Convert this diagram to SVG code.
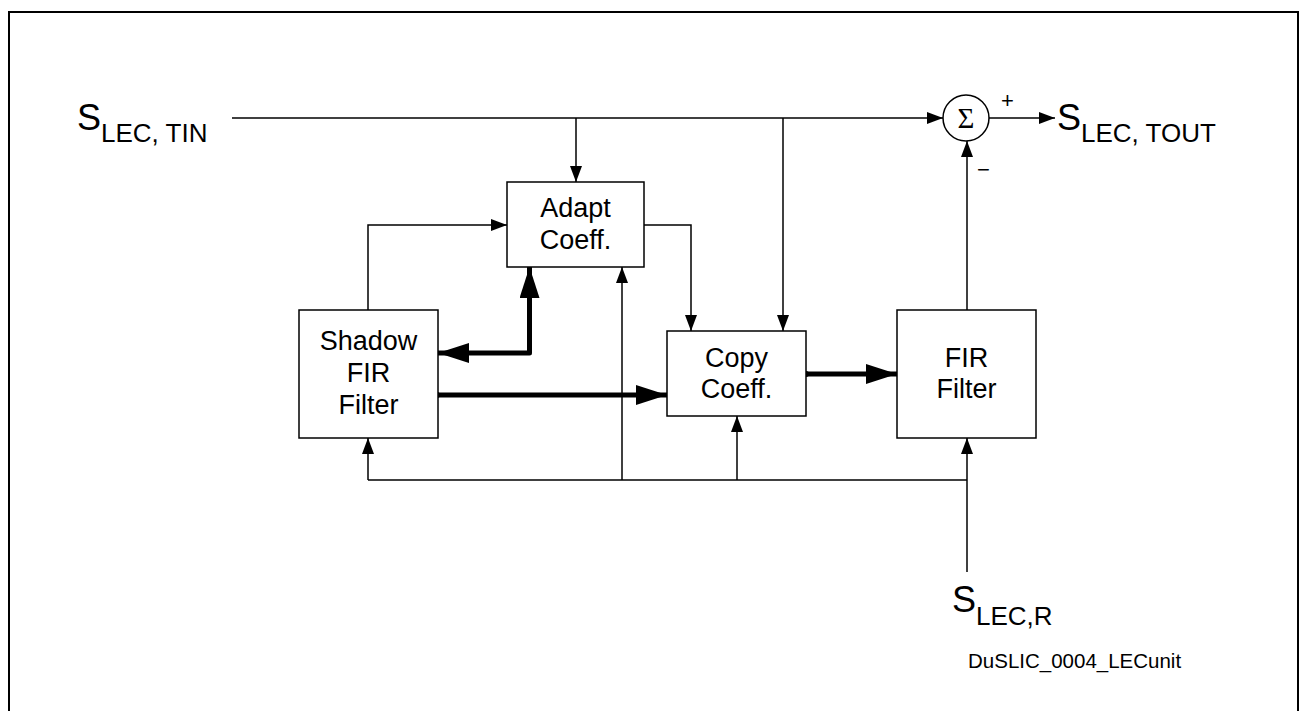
<svg xmlns="http://www.w3.org/2000/svg" width="1299" height="711" viewBox="0 0 1299 711">
<style>
.box{fill:#fff;stroke:#000;stroke-width:1.5}
.ln{fill:none;stroke:#000;stroke-width:1.5}
.thk{fill:none;stroke:#000;stroke-width:5;stroke-linejoin:round}
.t{font-family:"Liberation Sans",Arial,sans-serif;fill:#000}
.bt{font-family:"Liberation Sans",Arial,sans-serif;font-size:27px;text-anchor:middle;fill:#000}
</style>
<defs>
<marker id="a" markerUnits="userSpaceOnUse" markerWidth="16" markerHeight="12" refX="16" refY="6" orient="auto-start-reverse"><path d="M0,0 L16,6 L0,12 z" fill="#000"/></marker>
<marker id="A" markerUnits="userSpaceOnUse" markerWidth="31" markerHeight="20" refX="31" refY="10" orient="auto-start-reverse"><path d="M0,0 L31,10 L0,20 z" fill="#000"/></marker>
<marker id="d" markerUnits="userSpaceOnUse" markerWidth="8" markerHeight="8" refX="4" refY="4"><circle cx="4" cy="4" r="3" fill="#000"/></marker>
</defs>
<rect x="9" y="12" width="1289" height="720" fill="none" stroke="#000" stroke-width="2"/>
<g id="connectors">
<path class="ln" d="M232,118 L943,118" marker-end="url(#a)"/>
<path class="ln" d="M576,118 L576,182" marker-end="url(#a)"/>
<path class="ln" d="M783,118 L783,331" marker-end="url(#a)"/>
<path class="ln" d="M644,225 L691,225 L691,331" marker-end="url(#a)"/>
<path class="ln" d="M368,310 L368,225 L507,225" marker-end="url(#a)"/>
<path class="ln" d="M622,480 L622,267" marker-end="url(#a)"/>
<path class="ln" d="M368,480 L967,480"/>
<path class="ln" d="M368,480 L368,438" marker-end="url(#a)"/>
<path class="ln" d="M737,480 L737,416" marker-end="url(#a)"/>
<path class="ln" d="M967,572 L967,438" marker-end="url(#a)"/>
<path class="ln" d="M967,310 L967,141" marker-end="url(#a)"/>
<path class="ln" d="M989,118 L1055,118" marker-end="url(#a)"/>
<path class="thk" d="M438,353 L529.5,353 L529.5,267" marker-start="url(#A)" marker-end="url(#A)"/>
<path class="thk" d="M437,395 L667,395" marker-start="url(#d)" marker-end="url(#A)"/>
<path class="thk" d="M806,374 L897,374" marker-start="url(#d)" marker-end="url(#A)"/>
</g>
<g id="sum">
<circle cx="966" cy="118" r="23" fill="#fff" stroke="#000" stroke-width="1.5"/>
<text x="966" y="128" font-family="'Liberation Serif','Times New Roman',serif" font-size="29" text-anchor="middle">Σ</text>
<text class="t" x="1001" y="108" font-size="22">+</text>
<text class="t" x="977" y="177" font-size="22">−</text>
</g>
<g id="adapt"><rect class="box" x="507" y="182" width="137" height="85"/><text class="bt" x="575.5" y="217">Adapt</text><text class="bt" x="575.5" y="249">Coeff.</text></g>
<g id="shadow"><rect class="box" x="299" y="310" width="139" height="128"/><text class="bt" x="368.5" y="350">Shadow</text><text class="bt" x="368.5" y="382">FIR</text><text class="bt" x="368.5" y="414">Filter</text></g>
<g id="copy"><rect class="box" x="667" y="331" width="139" height="85"/><text class="bt" x="736.5" y="367">Copy</text><text class="bt" x="736.5" y="398">Coeff.</text></g>
<g id="fir"><rect class="box" x="897" y="310" width="139" height="128"/><text class="bt" x="966.5" y="367">FIR</text><text class="bt" x="966.5" y="398">Filter</text></g>
<g id="labels">
<text class="t" x="77" y="130" font-size="36">S<tspan font-size="26" dy="12">LEC, TIN</tspan></text>
<text class="t" x="1057" y="130" font-size="36">S<tspan font-size="26" dy="12">LEC, TOUT</tspan></text>
<text class="t" x="952" y="612" font-size="36">S<tspan font-size="26" dy="13">LEC,R</tspan></text>
<text class="t" x="968" y="668" font-size="20.5">DuSLIC_0004_LECunit</text>
</g>
</svg>
